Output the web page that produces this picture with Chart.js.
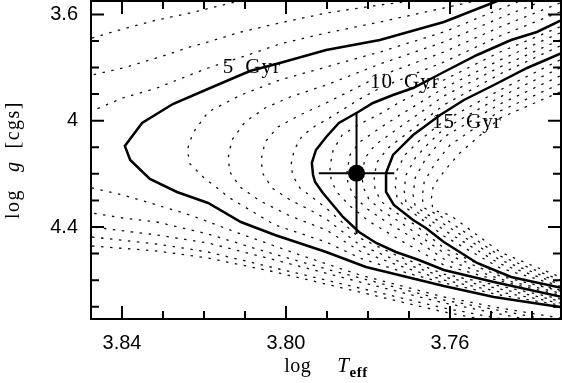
<!DOCTYPE html>
<html>
<head>
<meta charset="utf-8">
<script src="https://cdn.jsdelivr.net/npm/chart.js@4.4.0/dist/chart.umd.min.js"></script>
<style>
  html, body { margin: 0; padding: 0; background: #fff; }
</style>
</head>
<body>
<canvas id="iso" width="562" height="383"></canvas>
<script>
// axes: log Teff (reversed) and log g (reversed)
const xRange = [3.73293, 3.84756];
const yRange = [3.54967, 4.74605];
const xTickValues = [3.84, 3.80, 3.76];
const xTickLabels = ['3.84', '3.80', '3.76'];
const xMinorTicks = [3.83, 3.82, 3.81, 3.79, 3.78, 3.77, 3.75, 3.74];
const yTickValues = [3.6, 4.0, 4.4];
const yTickLabels = ['3.6', '4', '4.4'];
const yMinorTicks = [3.7, 3.8, 3.9, 4.1, 4.2, 4.3, 4.5, 4.6, 4.7];

// isochrones, [log Teff, log g]; solid ones are labelled
const iso5 = [[3.7454,3.5233],[3.7485,3.5497],[3.7615,3.6287],[3.7771,3.6964],[3.7902,3.7340],[3.8015,3.7829],[3.8088,3.8130],[3.8185,3.8770],[3.8276,3.9372],[3.8351,4.0087],[3.8393,4.0952],[3.8380,4.1479],[3.8332,4.2193],[3.8266,4.2682],[3.8190,4.3096],[3.8110,4.3811],[3.8027,4.4300],[3.7902,4.4940],[3.7805,4.5504],[3.7615,4.6219],[3.7493,4.6633],[3.7332,4.7009],[3.7307,4.7084]];
const iso10 = [[3.7300,3.6100],[3.7327,3.6211],[3.7388,3.6663],[3.7451,3.6964],[3.7534,3.7528],[3.7615,3.8168],[3.7690,3.8770],[3.7739,3.9033],[3.7788,3.9334],[3.7824,3.9673],[3.7871,4.0087],[3.7902,4.0613],[3.7927,4.1102],[3.7937,4.1591],[3.7934,4.2043],[3.7929,4.2306],[3.7910,4.2720],[3.7861,4.3623],[3.7822,4.4187],[3.7780,4.4601],[3.7732,4.4940],[3.7676,4.5241],[3.7615,4.5617],[3.7493,4.6068],[3.7327,4.6633],[3.7300,4.6720]];
const iso15 = [[3.7300,3.7350],[3.7327,3.7453],[3.7412,3.8017],[3.7493,3.8657],[3.7566,3.9221],[3.7624,3.9786],[3.7690,4.0538],[3.7739,4.1290],[3.7756,4.1968],[3.7756,4.2682],[3.7737,4.3171],[3.7690,4.3736],[3.7659,4.4037],[3.7615,4.4564],[3.7534,4.5354],[3.7451,4.5880],[3.7327,4.6294],[3.7300,4.6370]];

// dotted isochrones (younger ones only partly inside the frame)
const isoYoungB = [[3.8473,4.4714],[3.8315,4.4902],[3.8190,4.5166],[3.8027,4.5693],[3.7615,4.7197],[3.7332,4.8024]];
const isoYoungA = [[3.8473,4.4376],[3.8315,4.4639],[3.8190,4.4940],[3.8027,4.5542],[3.7615,4.7047],[3.7332,4.7874]];
const iso2 = [[3.8063,3.5309],[3.8124,3.5534],[3.8234,3.5948],[3.8315,3.6211],[3.8398,3.6550],[3.8473,3.6889],[3.8649,4.0350],[3.8473,4.3999],[3.8315,4.4300],[3.8190,4.4601],[3.8027,4.5241],[3.7820,4.6068],[3.7615,4.6858],[3.7332,4.7724]];
const iso3 = [[3.7673,3.5459],[3.7771,3.5647],[3.7902,3.5948],[3.8015,3.6324],[3.8110,3.6663],[3.8190,3.7039],[3.8234,3.7227],[3.8315,3.7641],[3.8398,3.8017],[3.8473,3.8281],[3.8600,4.0350],[3.8473,4.3473],[3.8398,4.3661],[3.8315,4.3811],[3.8190,4.4263],[3.8063,4.4865],[3.7893,4.5617],[3.7615,4.6746],[3.7332,4.7573]];
const iso4 = [[3.7527,3.5459],[3.7615,3.5760],[3.7771,3.6287],[3.7902,3.6700],[3.8015,3.7114],[3.8093,3.7528],[3.8190,3.8017],[3.8234,3.8281],[3.8315,3.8770],[3.8398,3.9146],[3.8473,3.9635],[3.8551,4.1102],[3.8473,4.2532],[3.8398,4.2795],[3.8315,4.3171],[3.8234,4.3548],[3.8110,4.4263],[3.7966,4.5053],[3.7820,4.5805],[3.7615,4.6633],[3.7478,4.7047],[3.7332,4.7423]];
const iso6 = [[3.7332,3.4895],[3.7478,3.5798],[3.7615,3.6663],[3.7771,3.7415],[3.7902,3.7980],[3.8015,3.8469],[3.8110,3.9033],[3.8190,3.9673],[3.8227,4.0463],[3.8241,4.1102],[3.8234,4.1629],[3.8202,4.2118],[3.8137,4.2908],[3.8027,4.3924],[3.7902,4.4564],[3.7820,4.5166],[3.7722,4.5655],[3.7615,4.6106],[3.7478,4.6558],[3.7332,4.6934]];
const iso7 = [[3.7332,3.5233],[3.7478,3.6136],[3.7615,3.7039],[3.7771,3.7867],[3.7902,3.8657],[3.7990,3.9108],[3.8051,3.9522],[3.8100,4.0049],[3.8132,4.0726],[3.8141,4.1403],[3.8137,4.1930],[3.8112,4.2494],[3.8063,4.3021],[3.7990,4.3585],[3.7902,4.4112],[3.7820,4.4902],[3.7722,4.5467],[3.7615,4.5993],[3.7478,4.6445],[3.7332,4.6858]];
const iso8 = [[3.7332,3.5572],[3.7478,3.6475],[3.7615,3.7415],[3.7771,3.8318],[3.7902,3.9334],[3.7966,3.9786],[3.8020,4.0237],[3.8051,4.0801],[3.8061,4.1479],[3.8056,4.2005],[3.8034,4.2532],[3.7990,4.2983],[3.7941,4.3360],[3.7902,4.3698],[3.7820,4.4677],[3.7722,4.5316],[3.7615,4.5880],[3.7478,4.6332],[3.7332,4.6783]];
const iso9 = [[3.7332,3.5910],[3.7478,3.6813],[3.7615,3.7792],[3.7771,3.8770],[3.7824,3.9221],[3.7902,3.9974],[3.7929,4.0199],[3.7961,4.0576],[3.7980,4.1102],[3.7988,4.1667],[3.7983,4.2081],[3.7966,4.2532],[3.7934,4.2908],[3.7902,4.3284],[3.7820,4.4413],[3.7722,4.5128],[3.7615,4.5768],[3.7478,4.6219],[3.7332,4.6708]];
const iso11 = [[3.7332,3.6475],[3.7478,3.7415],[3.7615,3.8469],[3.7722,3.9296],[3.7771,3.9748],[3.7820,4.0124],[3.7863,4.0538],[3.7885,4.1102],[3.7893,4.1742],[3.7890,4.2231],[3.7876,4.2682],[3.7844,4.3209],[3.7795,4.3811],[3.7722,4.4488],[3.7615,4.5429],[3.7478,4.6031],[3.7332,4.6558]];
const iso12 = [[3.7332,3.6700],[3.7478,3.7716],[3.7615,3.8770],[3.7722,3.9786],[3.7771,4.0275],[3.7820,4.0801],[3.7844,4.1290],[3.7851,4.1892],[3.7849,4.2382],[3.7834,4.2833],[3.7805,4.3284],[3.7759,4.3773],[3.7698,4.4338],[3.7615,4.5203],[3.7478,4.5956],[3.7332,4.6482]];
const iso13 = [[3.7332,3.6964],[3.7478,3.7980],[3.7615,3.9071],[3.7722,4.0237],[3.7783,4.0914],[3.7807,4.1403],[3.7815,4.2005],[3.7812,4.2494],[3.7798,4.2946],[3.7766,4.3397],[3.7722,4.3811],[3.7615,4.4977],[3.7478,4.5843],[3.7332,4.6407]];
const iso14 = [[3.7332,3.7190],[3.7478,3.8243],[3.7615,3.9409],[3.7710,4.0538],[3.7751,4.1027],[3.7778,4.1554],[3.7785,4.2118],[3.7783,4.2607],[3.7766,4.3059],[3.7734,4.3435],[3.7685,4.3924],[3.7615,4.4789],[3.7478,4.5768],[3.7332,4.6370]];
const iso16 = [[3.7332,3.7716],[3.7478,3.8845],[3.7615,4.0011],[3.7673,4.0726],[3.7710,4.1290],[3.7729,4.1855],[3.7734,4.2419],[3.7729,4.2908],[3.7710,4.3247],[3.7673,4.3661],[3.7615,4.4338],[3.7478,4.5542],[3.7332,4.6219]];
const iso17 = [[3.7332,3.8017],[3.7478,3.9108],[3.7615,4.0312],[3.7649,4.0801],[3.7685,4.1403],[3.7707,4.2043],[3.7712,4.2607],[3.7707,4.3096],[3.7685,4.3397],[3.7649,4.3736],[3.7615,4.4112],[3.7478,4.5391],[3.7332,4.6144]];
const iso18 = [[3.7332,3.8318],[3.7478,3.9372],[3.7615,4.0613],[3.7661,4.1479],[3.7685,4.2156],[3.7690,4.2795],[3.7685,4.3209],[3.7661,4.3473],[3.7615,4.3886],[3.7478,4.5241],[3.7332,4.6068]];
const iso19 = [[3.7332,3.8619],[3.7478,3.9635],[3.7600,4.0914],[3.7639,4.1667],[3.7663,4.2306],[3.7668,4.2908],[3.7663,4.3284],[3.7615,4.3661],[3.7478,4.5090],[3.7332,4.5993]];
const iso20 = [[3.7332,3.8920],[3.7478,3.9898],[3.7576,4.1215],[3.7612,4.1855],[3.7641,4.2457],[3.7646,4.2983],[3.7641,4.3360],[3.7600,4.3548],[3.7478,4.4940],[3.7332,4.5880]];

const solidTracks = [iso5, iso10, iso15];
const dottedTracks = [isoYoungB, isoYoungA, iso2, iso3, iso4, iso6, iso7, iso8, iso9,
  iso11, iso12, iso13, iso14, iso16, iso17, iso18, iso19, iso20];

// the star with its error bars
const starLogT = 3.7828;
const starLogTErr = 0.0092;
const starLogg = 4.198;
const starLoggErr = 0.228;

const ageLabelText = ['5 Gyr', '10 Gyr', '15 Gyr'];
const ageLabelAt = [[3.8154, 3.8205], [3.7795, 3.877], [3.7644, 4.0275]];

const toPoints = (arr) => arr.map(([x, y]) => ({ x, y }));

const lineSet = (pts, extra) => ({
  data: pts,
  showLine: true,
  borderColor: '#000',
  pointRadius: 0,
  tension: 0,
  fill: false,
  clip: 0,
  ...extra
});

const datasets = [
  ...dottedTracks.map((t) => lineSet(toPoints(t), { borderWidth: 1.3, borderDash: [2.5, 6.5], borderColor: '#111' })),
  ...solidTracks.map((t) => lineSet(toPoints(t), { borderWidth: 2.5 })),
  lineSet([{ x: starLogT - starLogTErr, y: starLogg }, { x: starLogT + starLogTErr, y: starLogg }], { borderWidth: 2 }),
  lineSet([{ x: starLogT, y: starLogg - starLoggErr }, { x: starLogT, y: starLogg + starLoggErr }], { borderWidth: 2 }),
  {
    data: [{ x: starLogT, y: starLogg }],
    showLine: false,
    pointRadius: 8.5,
    pointBackgroundColor: '#000',
    pointBorderWidth: 0
  }
];

const near = (arr, v) => arr.findIndex((a) => Math.abs(a - v) < 1e-9);

// no extra room for edge labels: the frame fills the canvas
const noPad = (s) => {
  s.paddingTop = 0;
  s.paddingBottom = 0;
  s.paddingLeft = 0;
  s.paddingRight = 0;
};

// draw words one after another with fixed gaps (old plotting-package spacing)
function drawRun(ctx, parts, x, y) {
  parts.forEach(([text, font, gap, dy]) => {
    ctx.font = font;
    ctx.fillText(text, x, y + (dy || 0));
    x += ctx.measureText(text).width + gap;
  });
}
function runWidth(ctx, parts) {
  return parts.reduce((w, [text, font, gap], i) => {
    ctx.font = font;
    return w + ctx.measureText(text).width + (i < parts.length - 1 ? gap : 0);
  }, 0);
}

const serif = '"Liberation Serif"';

// frame with inward ticks on all four sides, curve labels, axis titles
const framePlugin = {
  id: 'frame',
  afterDatasetsDraw(chart) {
    const { ctx, chartArea: a, scales } = chart;
    const xs = scales.x;
    const ys = scales.y;
    ctx.save();
    ctx.strokeStyle = '#000';
    ctx.lineWidth = 2;
    ctx.strokeRect(a.left, a.top, a.right - a.left, a.bottom - a.top);

    ctx.beginPath();
    const xTick = (v, len) => {
      const p = xs.getPixelForValue(v);
      ctx.moveTo(p, a.bottom); ctx.lineTo(p, a.bottom - len);
      ctx.moveTo(p, a.top); ctx.lineTo(p, a.top + len);
    };
    const yTick = (v, len) => {
      const p = ys.getPixelForValue(v);
      ctx.moveTo(a.left, p); ctx.lineTo(a.left + len, p);
      ctx.moveTo(a.right, p); ctx.lineTo(a.right - len, p);
    };
    xTickValues.forEach((v) => xTick(v, 13));
    xMinorTicks.forEach((v) => xTick(v, 8));
    yTickValues.forEach((v) => yTick(v, 13));
    yMinorTicks.forEach((v) => yTick(v, 8));
    ctx.stroke();

    ctx.fillStyle = '#000';
    ctx.textAlign = 'left';
    ctx.textBaseline = 'alphabetic';
    const canSpace = 'letterSpacing' in ctx;

    // age labels
    if (canSpace) ctx.letterSpacing = '1px';
    ageLabelText.forEach((t, i) => {
      const [lx, ly] = ageLabelAt[i];
      const words = t.split(' ');
      const f = `21px ${serif}`;
      drawRun(ctx, [[words[0], f, 11], [words[1], f, 0]], xs.getPixelForValue(lx), ys.getPixelForValue(ly));
    });

    // x title: log  T_eff
    if (canSpace) ctx.letterSpacing = '0.5px';
    const xParts = [
      ['log', `20px ${serif}`, 26],
      ['T', `italic 21px ${serif}`, 0],
      ['eff', `bold 15px ${serif}`, 0, 5]
    ];
    const cx = (a.left + a.right) / 2;
    drawRun(ctx, xParts, cx - runWidth(ctx, xParts) / 2, chart.height - 11);

    // y title: log g [cgs]
    if (canSpace) ctx.letterSpacing = '1.5px';
    const yParts = [
      ['log', `20px ${serif}`, 17],
      ['g', `italic 20px ${serif}`, 12],
      ['[cgs]', `20px ${serif}`, 0]
    ];
    const cy = (a.top + a.bottom) / 2;
    ctx.translate(19, cy);
    ctx.rotate(-Math.PI / 2);
    drawRun(ctx, yParts, -runWidth(ctx, yParts) / 2, 0);
    if (canSpace) ctx.letterSpacing = '0px';
    ctx.restore();
  }
};

new Chart(document.getElementById('iso'), {
  type: 'scatter',
  data: { datasets },
  options: {
    responsive: false,
    animation: false,
    events: [],
    layout: { autoPadding: false, padding: { top: 1, right: 1, left: 0, bottom: 0 } },
    plugins: { legend: { display: false }, tooltip: { enabled: false } },
    scales: {
      x: {
        type: 'linear',
        reverse: true,
        min: xRange[0],
        max: xRange[1],
        grid: { display: false, drawTicks: false },
        border: { display: false },
        afterBuildTicks: (s) => { s.ticks = xTickValues.map((v) => ({ value: v })); },
        afterFit: (s) => { s.height = 64; noPad(s); },
        ticks: {
          color: '#000',
          padding: 12,
          maxRotation: 0,
          autoSkip: false,
          font: { family: 'Liberation Sans', size: 20 },
          callback: (v) => xTickLabels[near(xTickValues, v)]
        }
      },
      y: {
        type: 'linear',
        reverse: true,
        min: yRange[0],
        max: yRange[1],
        grid: { display: false, drawTicks: false },
        border: { display: false },
        afterBuildTicks: (s) => { s.ticks = yTickValues.map((v) => ({ value: v })); },
        afterFit: (s) => { s.width = 91; noPad(s); },
        ticks: {
          color: '#000',
          padding: 13,
          autoSkip: false,
          font: { family: 'Liberation Sans', size: 20 },
          callback: (v) => yTickLabels[near(yTickValues, v)]
        }
      }
    }
  },
  plugins: [framePlugin]
});
</script>
</body>
</html>
